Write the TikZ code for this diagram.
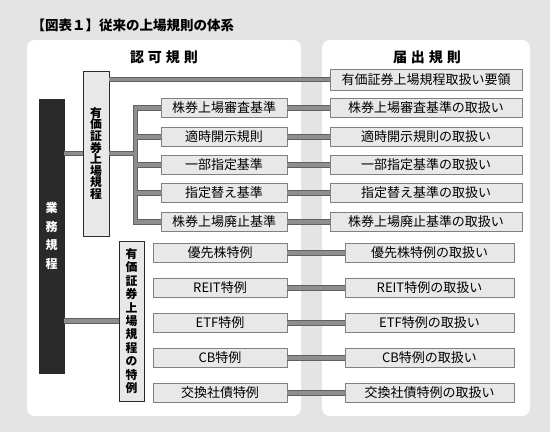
\documentclass[tikz,border=0pt]{standalone}
\usepackage{fontspec}
\setmainfont{Noto Sans CJK JP}
\definecolor{bgc}{HTML}{E4E4E4}
\definecolor{boxc}{HTML}{E8E8E8}
\definecolor{boxe}{HTML}{808080}
\definecolor{cedge}{HTML}{606060}
\definecolor{cfill}{HTML}{8E8E8E}
\definecolor{darkc}{HTML}{2A2A2A}
\begin{document}
\begin{tikzpicture}[x=1pt,y=-1pt,
  panel/.style={fill=white,draw=none,rounded corners=8pt},
  rbox/.style={draw=boxe,fill=boxc,line width=0.8pt,minimum height=19pt,inner sep=0pt,font=\fontsize{13}{13}\selectfont},
  vbox/.style={draw=darkc,fill=boxc,line width=0.8pt,inner sep=0pt,align=center,font=\bfseries\fontsize{11.8}{11.6}\selectfont},
  hdr/.style={font=\bfseries\fontsize{14}{14}\selectfont},
  conn/.style={draw=cedge,line width=5.5pt,postaction={draw=cfill,line width=3.5pt}}
]
\useasboundingbox (0,0) rectangle (550,432);
\fill[bgc] (0,0) rectangle (550,432);
\node[anchor=west,font=\bfseries\fontsize{13.5}{13.5}\selectfont] (title) at (28,25) {【図表１】従来の上場規則の体系};
\fill[panel] (27,40) rectangle (301,416);
\fill[panel] (322,40) rectangle (530,416);
\node[hdr] (hl) at (164,57) {認\hspace{4pt}可\hspace{4pt}規\hspace{4pt}則};
\node[hdr] (hr) at (427,57) {届\hspace{4pt}出\hspace{4pt}規\hspace{4pt}則};

% left vertical boxes
\node[draw=darkc,fill=darkc,minimum width=25pt,minimum height=274pt,inner sep=0pt,align=center,text=white,font=\bfseries\fontsize{12}{18.7}\selectfont] (gyomu) at (51.5,236) {業\\務\\規\\程};
\node[vbox,minimum width=26pt,minimum height=165pt] (yuka) at (96,153.5) {有\\価\\証\\券\\上\\場\\規\\程};
\node[vbox,minimum width=25pt,minimum height=160pt,font=\bfseries\fontsize{11.8}{13.4}\selectfont] (tok) at (131.5,321) {有\\価\\証\\券\\上\\場\\規\\程\\の\\特\\例};

% right-top box
\node[rbox,minimum width=192pt,minimum height=21pt] (R0) at (426,79.5) {有価証券上場規程取扱い要領};

% left boxes
\node[rbox,minimum width=126pt] (L1) at (224,108) {株券上場審査基準};
\node[rbox,minimum width=126pt] (L2) at (224,137) {適時開示規則};
\node[rbox,minimum width=126pt] (L3) at (224,165) {一部指定基準};
\node[rbox,minimum width=126pt] (L4) at (224,193) {指定替え基準};
\node[rbox,minimum width=126pt] (L5) at (224,222) {株券上場廃止基準};
\node[rbox,minimum width=192pt] (R1) at (426,108) {株券上場審査基準の取扱い};
\node[rbox,minimum width=192pt] (R2) at (426,137) {適時開示規則の取扱い};
\node[rbox,minimum width=192pt] (R3) at (426,165) {一部指定基準の取扱い};
\node[rbox,minimum width=192pt] (R4) at (426,193) {指定替え基準の取扱い};
\node[rbox,minimum width=192pt] (R5) at (426,222) {株券上場廃止基準の取扱い};

% special boxes
\node[rbox,minimum width=134pt] (S1) at (220,253) {優先株特例};
\node[rbox,minimum width=134pt] (S2) at (220,288) {REIT特例};
\node[rbox,minimum width=134pt] (S3) at (220,323) {ETF特例};
\node[rbox,minimum width=134pt] (S4) at (220,358) {CB特例};
\node[rbox,minimum width=134pt] (S5) at (220,393) {交換社債特例};
\node[rbox,minimum width=169pt] (T1) at (429.5,253) {優先株特例の取扱い};
\node[rbox,minimum width=169pt] (T2) at (429.5,288) {REIT特例の取扱い};
\node[rbox,minimum width=169pt] (T3) at (429.5,323) {ETF特例の取扱い};
\node[rbox,minimum width=169pt] (T4) at (429.5,358) {CB特例の取扱い};
\node[rbox,minimum width=169pt] (T5) at (429.5,393) {交換社債特例の取扱い};

\coordinate (bus) at (135.5,153.5);

% connectors
\path[conn] (yuka.west -| gyomu.east) -- (yuka.west);
\path[conn] (tok.west -| gyomu.east) -- (tok.west);
\path[conn] (R0.west -| yuka.east) -- (R0.west);
\path[conn] (L1.west) -| (bus |- L5) -- (L5.west)
  (yuka.east) -- (bus)
  (bus |- L2) -- (L2.west)
  (bus |- L3) -- (L3.west)
  (bus |- L4) -- (L4.west);
\foreach \i in {1,...,5}{
  \path[conn] (L\i.east) -- (R\i.west);
  \path[conn] (S\i.east) -- (T\i.west);
}
\end{tikzpicture}
\end{document}
